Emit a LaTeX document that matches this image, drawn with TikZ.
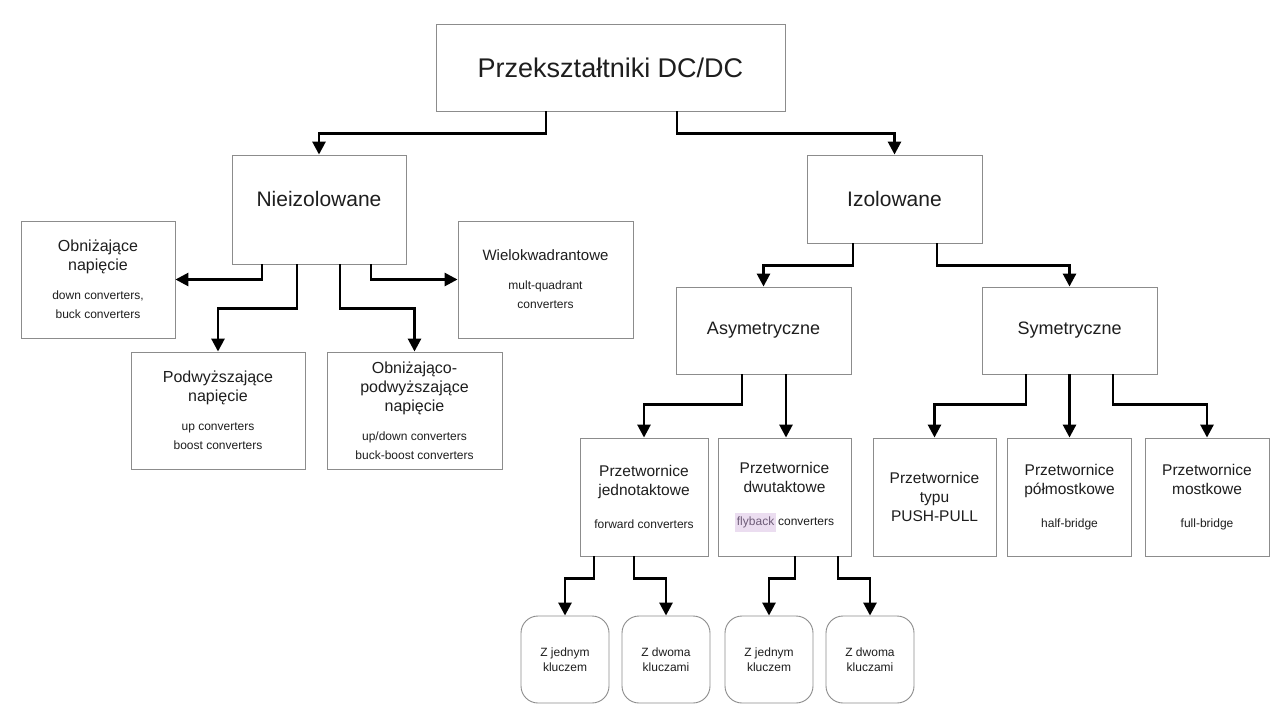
\documentclass[tikz,border=0pt]{standalone}
\usepackage{fontspec}
\setmainfont{Liberation Sans}
\usetikzlibrary{arrows.meta}
\definecolor{boxgray}{HTML}{8C8C8C}
\definecolor{txtgray}{HTML}{1E1E1E}
\definecolor{flyhl}{HTML}{EBDDF0}
\definecolor{flytxt}{HTML}{6E5C78}
\newcommand{\hdtxt}{\fontsize{16}{19}\selectfont}
\newcommand{\smtxt}{\fontsize{12}{15}\selectfont}

\begin{document}
\begin{tikzpicture}[x=1pt, y=-1pt,
  box/.style 2 args={draw=boxgray, line width=0.9pt, text width=#1, minimum height=#2,
    inner xsep=0pt, inner ysep=2pt, align=flush center, text=txtgray, font=\hdtxt},
  rowbox/.style={box={#1}{118pt}, font=\fontsize{15.5}{19}\selectfont},
  leaf/.style={box={88pt}{87pt}, rounded corners=17pt, font=\smtxt},
  conn/.style={line width=2.8pt, -{Triangle[width=13pt,length=13pt]}}]
  \useasboundingbox[fill=white] (0,0) rectangle (1287,723);

  \node[box={349pt}{87pt}, font=\fontsize{27}{32}\selectfont] (title) at (610.5,67.5) {Przekształtniki DC/DC};
  \node[box={174pt}{109pt}, font=\fontsize{21}{25}\selectfont, text depth=21pt] (nie) at (319,209.5) {Nieizolowane};
  \node[box={175pt}{88pt}, font=\fontsize{21}{25}\selectfont] (izo) at (894.5,199) {Izolowane};

  \node[box={154pt}{117pt}] (obn) at (98,279.5) {Obniżające\\ napięcie\\[14pt] \smtxt down converters,\\ buck converters};
  \node[box={175pt}{117pt}, font=\fontsize{15}{19}\selectfont] (wiel) at (545.5,279.5) {Wielokwadrantowe\\[14pt] \smtxt mult-quadrant\\ converters};
  \node[box={174pt}{117pt}] (podw) at (218,410.5) {Podwyższające\\ napięcie\\[14pt] \smtxt up converters\\ boost converters};
  \node[box={175pt}{117pt}] (obpod) at (414.5,410.5) {Obniżająco-\\ podwyższające\\ napięcie\\[14pt] \smtxt up/down converters\\ buck-boost converters};

  \node[box={175pt}{87pt}, font=\fontsize{18}{22}\selectfont] (asym) at (763.5,330.5) {Asymetryczne};
  \node[box={175pt}{87pt}, font=\fontsize{18}{22}\selectfont] (sym) at (1069.5,330.5) {Symetryczne};

  \node[rowbox=128pt] (jedn) at (644,497) {Przetwornice\\ jednotaktowe\\[14pt] \smtxt forward converters};
  \node[rowbox=133pt] (dwu) at (784.5,497) {Przetwornice\\ dwutaktowe\\[14pt] \smtxt\setlength{\fboxsep}{2pt}\colorbox{flyhl}{\strut\textcolor{flytxt}{flyback}}\hspace{-1.5pt} converters};
  \node[rowbox=123pt] (pp) at (934.5,497) {Przetwornice\\ typu\\ PUSH-PULL};
  \node[rowbox=124pt] (pol) at (1069.5,497) {Przetwornice\\ półmostkowe\\[14pt] \smtxt half-bridge};
  \node[rowbox=124pt] (most) at (1207,497) {Przetwornice\\ mostkowe\\[14pt] \smtxt full-bridge};

  \node[leaf] (zj1) at (565,659.5) {Z jednym\\ kluczem};
  \node[leaf] (zd1) at (666,659.5) {Z dwoma\\ kluczami};
  \node[leaf] (zj2) at (769,659.5) {Z jednym\\ kluczem};
  \node[leaf] (zd2) at (870,659.5) {Z dwoma\\ kluczami};

  \draw[conn] ([xshift=-64.5pt]title.south) -- ++(0,22) -| (nie.north);
  \draw[conn] ([xshift=66.5pt]title.south) -- ++(0,22) -| (izo.north);

  \draw[conn] ([xshift=-57pt]nie.south) |- (obn.east);
  \draw[conn] ([xshift=-22pt]nie.south) -- ++(0,44) -| (podw.north);
  \draw[conn] ([xshift=21pt]nie.south) -- ++(0,44) -| (obpod.north);
  \draw[conn] ([xshift=52pt]nie.south) |- (wiel.west);

  \draw[conn] ([xshift=-41.5pt]izo.south) -- ++(0,22) -| (asym.north);
  \draw[conn] ([xshift=42.5pt]izo.south) -- ++(0,22) -| (sym.north);

  \draw[conn] ([xshift=-21.5pt]asym.south) -- ++(0,30) -| (jedn.north);
  \draw[conn] ([xshift=22.5pt]asym.south) -- ([xshift=22.5pt]asym.south |- dwu.north);
  \draw[conn] ([xshift=-43.5pt]sym.south) -- ++(0,30) -| (pp.north);
  \draw[conn] (sym.south) -- (pol.north);
  \draw[conn] ([xshift=43.5pt]sym.south) -- ++(0,30) -| (most.north);

  \draw[conn] ([xshift=-50pt]jedn.south) -- ++(0,22) -| (zj1.north);
  \draw[conn] ([xshift=-10pt]jedn.south) -- ++(0,22) -| (zd1.north);
  \draw[conn] ([xshift=10.5pt]dwu.south) -- ++(0,22) -| (zj2.north);
  \draw[conn] ([xshift=53.5pt]dwu.south) -- ++(0,22) -| (zd2.north);
\end{tikzpicture}
\end{document}
